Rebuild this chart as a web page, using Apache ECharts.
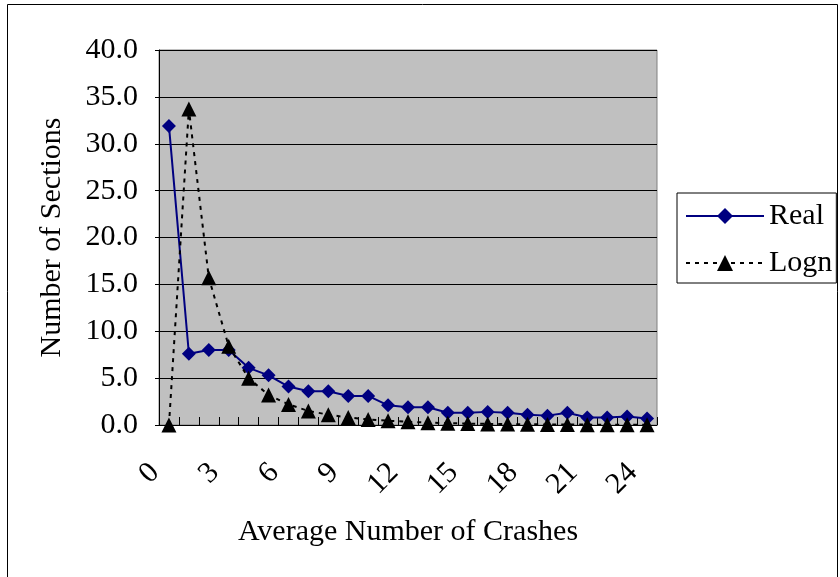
<!DOCTYPE html>
<html>
<head>
<meta charset="utf-8">
<script src="https://cdn.jsdelivr.net/npm/echarts@6/dist/echarts.min.js"></script>
<style>
html,body{margin:0;padding:0;background:#fff;}
#chart{width:840px;height:577px;}
</style>
</head>
<body>
<div id="chart"></div>
<script>
const categories = ['0','1','2','3','4','5','6','7','8','9','10','11','12','13','14','15','16','17','18','19','20','21','22','23','24'];
const realValues = [31.9, 7.6, 8.0, 8.0, 6.1, 5.3, 4.1, 3.6, 3.6, 3.1, 3.1, 2.1, 1.9, 1.9, 1.3, 1.3, 1.4, 1.3, 1.1, 1.0, 1.3, 0.8, 0.8, 0.9, 0.7];
const lognValues = [0.0, 33.7, 15.7, 8.4, 5.0, 3.2, 2.2, 1.5, 1.1, 0.8, 0.6, 0.45, 0.35, 0.25, 0.2, 0.15, 0.12, 0.1, 0.08, 0.06, 0.05, 0.04, 0.03, 0.03, 0.02];
const yTicks = {min: 0, max: 40, interval: 5};
const seriesNames = ['Real', 'Logn'];
const xTitle = 'Average Number of Crashes';
const yTitle = 'Number of Sections';

const FONT = '"Liberation Serif", "Times New Roman", serif';
const chart = echarts.init(document.getElementById('chart'), null, {renderer: 'canvas'});
chart.setOption({
  animation: false,
  backgroundColor: '#ffffff',
  textStyle: {fontFamily: FONT, color: '#000'},
  graphic: [{
    type: 'rect', z: -10,
    shape: {x: 7.5, y: 4.5, width: 830, height: 590},
    style: {fill: 'none', stroke: '#000', lineWidth: 1}
  }],
  grid: {
    left: 159, right: 183, top: 50, bottom: 152,
    show: true, backgroundColor: '#c0c0c0', borderColor: '#808080', borderWidth: 1,
    containLabel: false
  },
  legend: {
    data: seriesNames,
    orient: 'vertical',
    left: 677, top: 193,
    padding: [8, 4, 5, 8],
    itemGap: 17,
    itemWidth: 78, itemHeight: 20,
    borderColor: '#000', borderWidth: 1,
    backgroundColor: '#fff',
    textStyle: {fontFamily: FONT, fontSize: 30, color: '#000'}
  },
  xAxis: {
    type: 'category',
    data: categories,
    boundaryGap: true,
    name: xTitle,
    nameLocation: 'middle',
    nameGap: 92,
    nameTextStyle: {fontFamily: FONT, fontSize: 30, color: '#000', verticalAlign: 'top'},
    axisLine: {lineStyle: {color: '#000', width: 1}},
    axisTick: {show: true, inside: true, length: 8, interval: 0, lineStyle: {color: '#000'}},
    axisLabel: {
      interval: 2, rotate: 45, margin: 29,
      padding: [0, 20, 0, 0],
      fontFamily: FONT, fontSize: 30, color: '#000'
    },
    splitLine: {show: false}
  },
  yAxis: {
    type: 'value',
    min: yTicks.min, max: yTicks.max, interval: yTicks.interval,
    name: yTitle,
    nameLocation: 'middle',
    nameGap: 92,
    nameRotate: 90,
    nameTextStyle: {fontFamily: FONT, fontSize: 30, color: '#000'},
    axisLine: {show: true, lineStyle: {color: '#000', width: 1}},
    axisTick: {show: true, length: 4, lineStyle: {color: '#000'}},
    axisLabel: {
      margin: 21, fontFamily: FONT, fontSize: 30, color: '#000',
      formatter: v => v.toFixed(1)
    },
    splitLine: {show: true, lineStyle: {color: '#000', width: 1}}
  },
  series: [
    {
      name: seriesNames[0], type: 'line', data: realValues,
      symbol: 'diamond', symbolSize: 14, showAllSymbol: true,
      lineStyle: {color: '#000080', width: 2},
      itemStyle: {color: '#000080'},
      z: 2
    },
    {
      name: seriesNames[1], type: 'line', data: lognValues,
      symbol: 'triangle', symbolSize: 15, showAllSymbol: true,
      lineStyle: {color: '#000', width: 2, type: [4, 5]},
      itemStyle: {color: '#000'},
      z: 3
    }
  ]
});
</script>
</body>
</html>
